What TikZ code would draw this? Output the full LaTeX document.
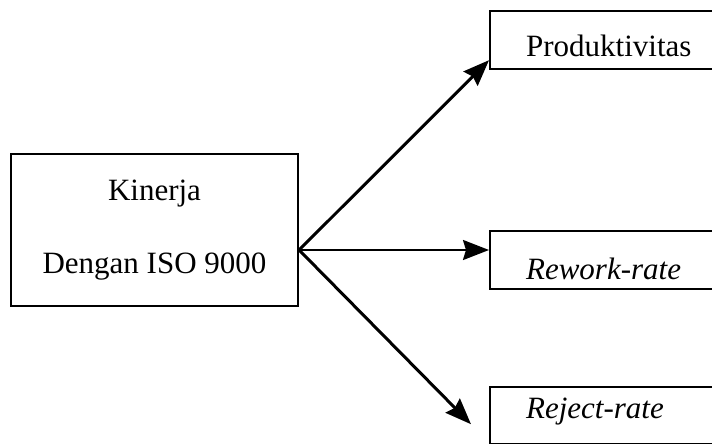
\documentclass[tikz,border=0pt]{standalone}
\usepackage{fontspec}
\setmainfont{Liberation Serif}
\usepackage{tikz}
\usetikzlibrary{arrows.meta,positioning,calc}

\begin{document}
\begin{tikzpicture}[x=1pt, y=-1pt,
  box/.style={draw, line width=2.2pt, minimum width=287pt, minimum height=152pt,
              font=\fontsize{31}{37}\selectfont, align=center},
  outbox/.style={draw, line width=2.2pt, anchor=north west, text width=230pt, align=left,
                 inner xsep=36pt, inner ysep=0pt, text height=45pt, text depth=13pt,
                 font=\fontsize{31}{37}\selectfont},
  arr/.style={-{Stealth[length=26pt, width=20pt, inset=3pt]}, line width=3pt}
]
  \useasboundingbox (0,0) rectangle (712,444);
  \clip (0,0) rectangle (712,444);

  \node[box] (kin) at (154.5,230) {Kinerja\\[36pt]Dengan ISO 9000};

  \node[outbox] (prod) at (489,10) {Produktivitas};
  \node[outbox, text height=48pt, text depth=10pt] (rew) at (489,230) {\textit{Rework-rate}};
  \node[outbox, text height=31pt, text depth=26pt] (rej) at (489,386) {\textit{Reject-rate}};

  \coordinate (src) at ([yshift=-20pt]kin.east);

  \draw[arr] (src) -- ([yshift=10pt]prod.south west);
  \draw[arr, line width=2.2pt] (src) -- (src -| rew.west);
  \draw[arr] (src) -- ([xshift=-18pt, yshift=21pt]rej.south west);
\end{tikzpicture}
\end{document}
